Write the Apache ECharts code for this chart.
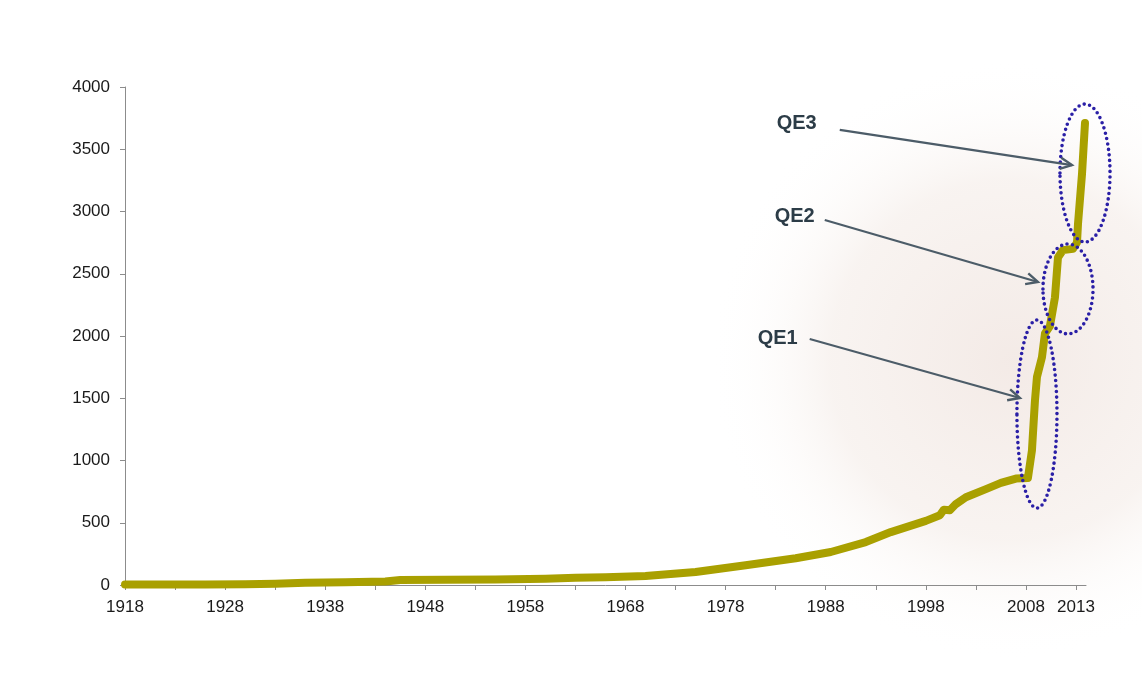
<!DOCTYPE html>
<html>
<head>
<meta charset="utf-8">
<script src="https://cdn.jsdelivr.net/npm/echarts@6/dist/echarts.min.js"></script>
<style>
html,body{margin:0;padding:0;background:#fff;}
#main{width:1142px;height:690px;}
</style>
</head>
<body>
<div id="main"></div>
<script>
// Data (billions)
var years = [1918,1922,1926,1930,1933,1936,1940,1944,1945.5,1950,1955,1960,1963,1966,1970,1975,1980,1985,1988.5,1992,1994.5,1998,1999.4,1999.8,2000.4,2001,2002,2004,2005.5,2007,2008.2,2008.6,2008.9,2009.1,2009.6,2009.9,2010.4,2010.9,2011.2,2011.7,2012.7,2013.1,2013.2,2013.6,2013.9];
var values = [5,5,5,6,10,18,22,28,40,42,45,50,58,62,72,105,158,215,265,345,425,515,560,605,600,650,705,770,820,855,860,1080,1480,1670,1830,2020,2080,2310,2630,2690,2700,2750,2900,3300,3710];

var xTickValues = [1918,1923,1928,1933,1938,1943,1948,1953,1958,1963,1968,1973,1978,1983,1988,1993,1998,2003,2008,2013];
var xLabelValues = [1918,1928,1938,1948,1958,1968,1978,1988,1998,2008,2013];

// Annotations (data coordinates)
var qeNames = ['QE1','QE2','QE3'];
var qeLabelPos = [[1983.2,1984],[1984.9,2956],[1985.1,3703]];
var qeArrowFrom = [[1986.4,1976],[1987.9,2932],[1989.4,3655]];
var qeArrowTo = [[2007.4,1502],[2009.2,2434],[2012.6,3373]];
var qeEllipseCenter = [[2009.1,1373],[2012.2,2378],[2013.9,3309]];
var qeEllipseRadius = [[2.0,755],[2.5,361],[2.5,554]];

var chart = echarts.init(document.getElementById('main'));
var seriesData = years.map(function(y,i){return [y, values[i]];});
var FONT = 'Liberation Sans, Arial, sans-serif';

chart.setOption({
  animation:false,
  backgroundColor:'#ffffff',
  grid:{left:125,right:56,top:87,bottom:105,containLabel:false},
  xAxis:{
    type:'value', min:1918, max:2014,
    axisLine:{show:true,lineStyle:{color:'#8c8c8c',width:1}},
    axisTick:{show:true,length:5,lineStyle:{color:'#8c8c8c'},customValues:xTickValues},
    axisLabel:{customValues:xLabelValues,color:'#1a1a1a',fontFamily:FONT,fontSize:17,margin:14,
      formatter:function(v){return String(Math.round(v));}},
    splitLine:{show:false}
  },
  yAxis:{
    type:'value', min:0, max:4000, interval:500,
    axisLine:{show:true,lineStyle:{color:'#8c8c8c',width:1}},
    axisTick:{show:true,length:5,lineStyle:{color:'#8c8c8c'}},
    axisLabel:{color:'#1a1a1a',fontFamily:FONT,fontSize:17,margin:15,
      formatter:function(v){return String(v);}},
    splitLine:{show:false}
  },
  series:[{
    type:'line', data:seriesData, showSymbol:false, symbol:'none',
    lineStyle:{color:'#A9A000',width:8,cap:'round',join:'round'},
    z:3
  }]
});

function px(p){return chart.convertToPixel({gridIndex:0}, p);}

var graphics = [];
// faint background texture
graphics.push({
  type:'ellipse', z:-10, silent:true,
  shape:{cx:1010,cy:360,rx:300,ry:330},
  style:{fill:{type:'radial',x:0.5,y:0.5,r:0.5,colorStops:[
    {offset:0,color:'rgba(232,214,206,0.5)'},
    {offset:0.6,color:'rgba(236,222,214,0.35)'},
    {offset:1,color:'rgba(255,255,255,0)'}]}}
});

for (var i=0;i<3;i++){
  var c = px(qeEllipseCenter[i]);
  var e1 = px([qeEllipseCenter[i][0]+qeEllipseRadius[i][0], qeEllipseCenter[i][1]+qeEllipseRadius[i][1]]);
  graphics.push({
    type:'ellipse', z:10, silent:true,
    shape:{cx:c[0],cy:c[1],rx:Math.abs(e1[0]-c[0]),ry:Math.abs(c[1]-e1[1])},
    style:{fill:null,stroke:'#2a1fa6',lineWidth:3.6,lineDash:[0,5.5],lineCap:'round'}
  });
  var a = px(qeArrowFrom[i]), b = px(qeArrowTo[i]);
  graphics.push({
    type:'line', z:11, silent:true,
    shape:{x1:a[0],y1:a[1],x2:b[0],y2:b[1]},
    style:{stroke:'#4c5c68',lineWidth:2.2}
  });
  var ang = Math.atan2(b[1]-a[1], b[0]-a[0]);
  var L = 13, w = 0.45;
  graphics.push({
    type:'polyline', z:11, silent:true,
    shape:{points:[
      [b[0]-L*Math.cos(ang-w), b[1]-L*Math.sin(ang-w)],
      [b[0],b[1]],
      [b[0]-L*Math.cos(ang+w), b[1]-L*Math.sin(ang+w)]]},
    style:{stroke:'#4c5c68',lineWidth:2.4,fill:null,lineJoin:'miter'}
  });
  var t = px(qeLabelPos[i]);
  graphics.push({
    type:'text', z:12, silent:true, x:t[0], y:t[1],
    style:{text:qeNames[i],fill:'#2c3c47',font:'bold 20px "Liberation Sans", Arial, sans-serif',align:'center',verticalAlign:'middle'}
  });
}
chart.setOption({graphic:graphics});
</script>
</body>
</html>
